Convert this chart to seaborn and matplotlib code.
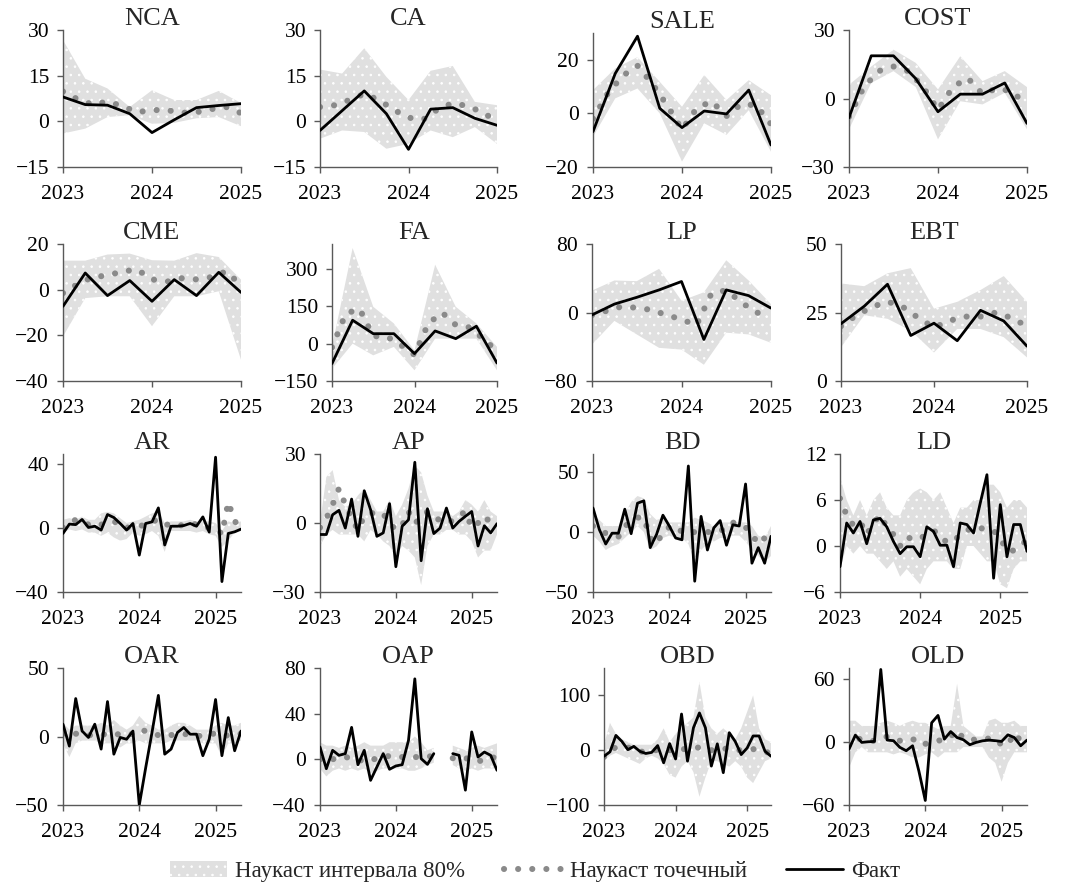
import numpy as np
import pandas as pd
import matplotlib
matplotlib.use('Agg')
import matplotlib.pyplot as plt
import seaborn as sns
from matplotlib.lines import Line2D
from matplotlib.patches import Patch

nan = np.nan

# quarterly panels: fact / 80% band per quarter (2023Q1..2025Q1), point nowcast every 2 months
NCA_fact = [8.0, 5.5, 5.3, 2.5, -3.7, 0.5, 4.5, 5.2, 5.8]
NCA_hi = [26.7, 14.0, 10.8, 4.7, 10.2, 7.0, 7.0, 10.0, 6.0]
NCA_lo = [-4.0, -2.4, 1.4, 2.0, -0.8, -0.5, 1.0, 1.4, -1.6]
NCA_now = [9.8, 7.2, 5.5, 6.5, 5.0, 3.0, 3.7, 3.7, 2.8, 3.0, 4.0, 4.7, 2.7]

CA_fact = [-3.0, 3.5, 10.0, 2.5, -9.2, 4.0, 4.5, 1.0, -1.3]
CA_hi = [17.0, 15.7, 24.0, 14.6, 7.0, 16.6, 18.2, 6.4, 5.3]
CA_lo = [-5.7, -3.0, -3.5, -9.0, -7.4, -3.0, -5.2, -1.9, -7.4]
CA_now = [4.7, 5.3, 7.0, 9.0, 7.0, 3.8, 1.2, 0.6, 4.0, 6.0, 5.0, 3.0, 0.0]

SALE_fact = [-6.8, 14.9, 28.8, 1.9, -5.3, 0.9, -0.2, 8.7, -11.8]
SALE_hi = [8.7, 16.8, 21.0, 11.8, 2.5, 14.3, 5.0, 12.4, 6.8]
SALE_lo = [-8.7, 5.6, 9.3, 0.0, -18.0, -3.7, -8.0, 1.2, -14.3]
SALE_now = [-2.0, 7.5, 14.0, 17.8, 11.0, 3.0, -6.0, 2.0, 4.5, -1.0, 3.5, 3.0, -4.0]

COST_fact = [-8.4, 18.7, 18.7, 8.7, -5.8, 1.9, 1.9, 6.8, -10.9]
COST_hi = [6.0, 14.0, 21.4, 15.6, 4.0, 18.5, 7.6, 12.0, 5.0]
COST_lo = [-13.5, 6.8, 12.0, 5.0, -17.9, -1.2, -2.6, 2.5, -13.5]
COST_now = [-8.0, 5.0, 12.0, 14.0, 12.0, 5.0, -5.0, 5.0, 9.0, 2.0, 4.5, 3.0, -3.0]

CME_fact = [-7.3, 7.3, -2.6, 4.0, -5.1, 4.4, -2.6, 7.6, -1.2]
CME_hi = [12.7, 12.7, 15.4, 15.8, 12.9, 12.7, 16.0, 14.3, 4.4]
CME_lo = [-20.5, -3.7, -2.9, -2.9, -16.0, -2.9, -2.9, -0.7, -30.7]
CME_now = [-1.5, 2.5, 5.5, 6.2, 8.0, 8.8, 4.5, 3.5, 5.0, 4.5, 5.5, 8.0, 2.0]

FA_fact = [-80, 94, 40, 40, -40, 51, 20, 70, -78]
FA_hi = [-13, 384, 148, 81, -27, 317, 148, 81, -13]
FA_lo = [-101, 0, -47, -13, -107, 20, 20, 20, -107]
FA_now = [-15, 120, 140, 30, 28, -5, -45, 80, 125, 75, 65, 20, -30]

LP_fact = [-2.8, 9.8, 17.7, 26.4, 36.2, -31.5, 26.4, 19.7, 5.1]
LP_hi = [25.6, 37.4, 36.6, 51.0, 13.8, 23.6, 61.0, 37.4, 9.8]
LP_lo = [-37.4, -9.8, -25.6, -41.3, -43.3, -61.0, -23.6, -25.6, -35.4]
LP_now = [-3, 2, 7, 5.5, 3, -3, -8, -15, 22, 26, 12, 0, -3]

EBT_fact = [20.9, 27.3, 35.3, 16.6, 21.1, 14.7, 25.8, 21.9, 12.7]
EBT_hi = [35.6, 34.6, 39.3, 41.2, 26.4, 28.9, 33.2, 38.3, 28.9]
EBT_lo = [12.3, 24.0, 22.7, 18.4, 10.4, 19.0, 19.0, 16.0, 8.6]
EBT_now = [20, 24, 27, 29, 27, 23, 19.5, 22, 23.5, 23.5, 25, 23, 20]

# monthly panels: Jan 2023 .. May 2025
AR_fact = [-3.5, 2.3, 2.0, 5.2, 0.2, 1.0, -1.4, 8.3, 6.4, 2.7, -1.4, 2.7, -17, 2.7, 3.7,
           12.4, -10.7, 1.0, 1.0, 1.4, 2.7, 1.0, 6.8, -2.7, 44, -33.5, -3.5, -2.5, -0.8]
AR_hi = [5, 6, 5, 7, 5, 5, 9, 10, 9, 6, 3, 4, 5, 7, 9, 10, 3, 4, 4, 4, 5, 4, 4, 4, 3, -2, 4, 3, 4]
AR_lo = [-3, -1, -2, -1, -3, -3, -5, -3, -6, -8, -7, -3, -5, -4, -2, -5, -15, -2, -2, -2,
         -2, -3, -2, -4, -5, -12, -8, -3, -2]
AR_now = [0, 3, 5, 4, 2, 1, 2, 3, 4, 2, 0, 1, 1, 2, 4, 5, 2, 2, 1, 2, 3, 2, 0, 0, 0, -4, 16, 4, 1]

AP_fact = [-5, -5, 3.6, 5.5, -2.2, 10.4, -5.8, 14, 5.8, -5.8, -4.3, 8.4, -19, -1.4, 1.4,
           26.4, -16.4, 6.2, -4.6, -2.2, 6.5, -2.2, 0.7, 2.9, 5, -10, -1.2, -4.3, -0.3]
AP_hi = [0, 20, 23, 10, 7, 8, 12, 15, 10, 5, 5, 10, 3, 8, 15, 25, 22, 12, 5, 5, 5, 3, 5, 10, 8, 5, 10, 5, 3]
AP_lo = [-10, -5, -3, -5, -5, -5, -5, -8, -3, -5, -8, -10, -15, -10, -12, -15, -27, -10, -5,
         -5, -3, -3, -5, -5, -8, -15, -12, -12, -5]
AP_now = [-2, 2, 8, 15, 8, 2, -3, 3, 4, 5, 4, 0, -3, -1, 5, 0, 2, 5, 3, 1, 0, 1, 3, 5, -2, 0, 3, 0, -1]

BD_fact = [20, 2, -10, -1, -1, 19, -1.4, 24, 26, -13, -2, 14, 5, -5, -6.5, 55, -41, 13, -15,
           3.4, 9.5, -11, 6, 5, 40, -26, -13, -26, -3.6]
BD_hi = [15, 10, 5, 5, 5, 15, 25, 30, 28, 15, 10, 12, 8, 8, 8, 8, 12, 10, 8, 5, 8, 8, 8, 8, 8, 5, -3, -5, 5]
BD_lo = [-3, -8, -15, -12, -10, -5, 0, 5, 0, -15, -12, -5, -3, -5, -5, -10, -25, -15, -10, -8,
         -5, -5, -3, -3, -8, -15, -20, -25, -20]
BD_now = [5, 2, -1, -3, -4, 5, 8, 12, 12, -5, -10, 0, 4, 5, 0, -1, 0, 0, 0, 0, 1, 3, 8, 5, 4, -2, -10, -5, -4]

LD_fact = [-2.7, 3, 1.7, 3.2, 0.3, 3.4, 3.6, 2.5, 0.6, -1, -0.1, -0.1, -1.4, 2.5, 1.9, 0.1, 0.1,
           -2.7, 3, 2.8, 1.7, 5.6, 9.3, -4.2, 5.4, -1.4, 2.8, 2.8, -0.7]
LD_hi = [9, 6, 4, 6, 4, 6, 7, 5, 4, 4, 6, 7, 7.5, 7, 6, 7, 5, 3, 5, 5, 6, 6, 8, 8, 7, 5, 6, 6, 5]
LD_lo = [-3, 0, -1, 0, -1, -1, -2, -3, -2, -4, -3, -4, -5, -3, -2, -2, -2, -3, -3, 0, 0, -1,
         -2, -2, -5, -5.5, -3, -2, -2]
LD_now = [6.2, 4, 2.7, 3.2, 1.5, 3, 4, 2.5, 1.5, 0, 1.2, 0.8, 1, 1.5, 2, 1.5, 0.4, 0.8, 1.3, 2,
          2.5, 2.3, 2.3, 2, 1, -0.6, -0.6, 0, 0.8]

OAR_fact = [9, -7, 27.7, 4, -0.7, 9, -9.2, 25.5, -12.9, -0.7, -2, 4, -50, -23, 3, 30, -12.9,
            -9.2, 2.9, 6.6, 1.7, 1.7, -14, -2, 27, -14, 13.8, -10.4, 4]
OAR_hi = [10, 5, 8, 8, 8, 8, 10, 8, 12, 8, 5, 8, 15, 10, 8, 5, 5, 8, 10, 10, 8, 5, 5, 5, 8, 10, 8, 8, 10]
OAR_lo = [-5, -15, -5, -3, -3, -3, -5, -5, -5, -8, -5, -5, -3, -5, -5, -5, -5, -3, -3, -3, -3,
          -3, -5, -5, -5, -15, -5, -5, -3]
OAR_now = [2, 0, 2, 2, 1, 1, 2, 1, 1, 2, 1, 2, 5, 4, 2, 1, 0, 1, 2, 2, 1, 0, 1, 2, 2, 0, 1, 2, 2]

OAP_fact = [10.8, -8.2, 7.9, 3.5, 5, 28, -4.7, 7.9, -18.4, -6.7, 5, -8.7, -5.8, -4.7, 16.6,
            70.5, 0.6, -4.4, 5, nan, nan, 5, 3.5, -27, 24, 2, 6.4, 3.5, -9.6]
OAP_hi = [15, 12, 12, 10, 12, 10, 12, 15, 12, 12, 12, 15, 15, 15, 15, 20, 15, 8, 10, nan, nan,
          12, 10, 8, 10, 12, 10, 12, 14]
OAP_lo = [-8, -15, -10, -8, -10, -8, -10, -8, -12, -10, -8, -8, -8, -8, -10, -10, -8, -5, -3,
          nan, nan, -5, -8, -10, -8, -10, -8, -8, -8]
OAP_now = [0, -2, 0, 2, 2, 1, 0, -2, -1, 1, 2, 3, 3, 2, 3, 2, 2, 3, 2, nan, nan, 1, 0, 1, 0, -2, 0, 2, 1]

OBD_fact = [-11, -3, 27, 16, 1, 7, -2, -6, -4, 8.5, -23, 12, -16, 66, -20, 41, 68, 41, -29,
            11.6, -41, 32, 16, -8, 4, 26, 26, -2, -11]
OBD_hi = [10, 50, 30, 20, 15, 10, 10, 10, 10, 20, 40, 15, 30, 40, 50, 60, 125, 60, 40, 30, 40,
          30, 20, 40, 70, 100, 40, 20, 15]
OBD_lo = [-20, -10, -5, -10, -15, -20, -25, -15, -10, -15, -25, -45, -50, -30, -20, -40, -85,
          -50, -20, -20, -25, -30, -20, -30, -50, -60, -40, -20, -15]
OBD_now = [-12, 0, 5, 3, 5, 2, -3, -2, 0, 0, 0, 0, 0, 2, 2, 4, 5, 5, 0, 2, 3, 2, 0, 0, 0, 2, 0, -3, -5]

OLD_fact = [-7, 6.3, -0.6, 0, 0.3, 68.6, 1.6, 1, -5.3, -8.5, -3.8, -28, -55.7, 18, 25, 2.5,
            9.7, 4, 1.9, -2.8, -0.6, 0.9, 1.6, 1, 0.3, 6.6, 4, -3.8, 1.6]
OLD_hi = [20, 20, 15, 15, 15, 18, 20, 18, 15, 18, 20, 18, 18, 15, 12, 15, 15, 55, 15, 10, 5, 5,
          20, 22, 18, 18, 20, 15, 15]
OLD_lo = [-25, -10, -5, -10, -10, -10, -10, -12, -10, -12, -15, -15, -12, -10, -15, -10, -10,
          -10, -5, -5, -5, -5, -15, -20, -38, -20, -10, -10, -10]
OLD_now = [-3, 4, 2, 0, 1, 3, 5, 2, 1, 3, 2, 3, -2, 0, 1, 2, 5, 11, 3, 2, 2, 3, 3, 3, -3, -3, 8, 1, 0]

# name, frequency, data, y limits, y ticks
panels = [
    ('NCA', 'q', (NCA_fact, NCA_lo, NCA_hi, NCA_now), (-15, 30), [-15, 0, 15, 30]),
    ('CA', 'q', (CA_fact, CA_lo, CA_hi, CA_now), (-15, 30), [-15, 0, 15, 30]),
    ('SALE', 'q', (SALE_fact, SALE_lo, SALE_hi, SALE_now), (-20, 30), [-20, 0, 20]),
    ('COST', 'q', (COST_fact, COST_lo, COST_hi, COST_now), (-30, 30), [-30, 0, 30]),
    ('CME', 'q', (CME_fact, CME_lo, CME_hi, CME_now), (-40, 20), [-40, -20, 0, 20]),
    ('FA', 'q', (FA_fact, FA_lo, FA_hi, FA_now), (-150, 400), [-150, 0, 150, 300]),
    ('LP', 'q', (LP_fact, LP_lo, LP_hi, LP_now), (-80, 80), [-80, 0, 80]),
    ('EBT', 'q', (EBT_fact, EBT_lo, EBT_hi, EBT_now), (0, 50), [0, 25, 50]),
    ('AR', 'm', (AR_fact, AR_lo, AR_hi, AR_now), (-40, 46), [-40, 0, 40]),
    ('AP', 'm', (AP_fact, AP_lo, AP_hi, AP_now), (-30, 30), [-30, 0, 30]),
    ('BD', 'm', (BD_fact, BD_lo, BD_hi, BD_now), (-50, 65), [-50, 0, 50]),
    ('LD', 'm', (LD_fact, LD_lo, LD_hi, LD_now), (-6, 12), [-6, 0, 6, 12]),
    ('OAR', 'm', (OAR_fact, OAR_lo, OAR_hi, OAR_now), (-50, 50), [-50, 0, 50]),
    ('OAP', 'm', (OAP_fact, OAP_lo, OAP_hi, OAP_now), (-40, 80), [-40, 0, 40, 80]),
    ('OBD', 'm', (OBD_fact, OBD_lo, OBD_hi, OBD_now), (-100, 150), [-100, 0, 100]),
    ('OLD', 'm', (OLD_fact, OLD_lo, OLD_hi, OLD_now), (-60, 70), [-60, 0, 60]),
]

legend_labels = ['Наукаст интервала 80%', 'Наукаст точечный', 'Факт']

# plot-area boxes in pixels (left, right), per row (top, bottom)
W, H = 1070, 885
col_px = [
    [(63, 241), (320, 497), (593, 771), (849, 1027)],
    [(63, 241), (332, 497), (592, 771), (841, 1027)],
    [(63, 241), (320, 497), (593, 771), (840, 1027)],
    [(63, 241), (320, 497), (604, 771), (849, 1027)],
]
row_px = [(30, 167), (244, 381), (454, 592), (668, 805)]

BAND = '#e0e0e0'
DOTS = '#8a8a8a'
SPINE = '#595959'

sns.set_theme(style='ticks')
plt.rcParams['font.family'] = ['Liberation Serif', 'DejaVu Serif']
plt.rcParams['axes.unicode_minus'] = True
plt.rcParams['hatch.color'] = 'white'
plt.rcParams['hatch.linewidth'] = 0.6

dot_style = dict(linestyle=(0, (0.01, 2.3)), dash_capstyle='round', linewidth=4.4, color=DOTS)

fig = plt.figure(figsize=(W / 100, H / 100), dpi=100)

for k, (name, freq, (fact, lo, hi, now), ylim, yticks) in enumerate(panels):
    r, c = divmod(k, 4)
    (x0, x1), (y0, y1) = col_px[r][c], row_px[r]
    row_top = y0
    if name == 'SALE':
        y0 = 33
    ax = fig.add_axes([x0 / W, 1 - y1 / H, (x1 - x0) / W, (y1 - y0) / H])

    if freq == 'q':
        x_main = 2023 + np.arange(len(fact)) / 4
        x_now = 2023 + np.arange(len(now)) / 6
        xmax = 2025
    else:
        x_main = 2023 + np.arange(len(fact)) / 12
        x_now = x_main
        xmax = 2023 + 28 / 12

    ax.fill_between(x_main, lo, hi, facecolor=BAND, edgecolor='white', hatch='..',
                    linewidth=0, zorder=1)

    d_now = pd.DataFrame({'x': x_now, 'y': now})
    d_now['seg'] = d_now['y'].isna().cumsum()
    sns.lineplot(data=d_now.dropna(), x='x', y='y', units='seg', estimator=None,
                 ax=ax, zorder=2, **dot_style)

    d_fact = pd.DataFrame({'x': x_main, 'y': fact})
    d_fact['seg'] = d_fact['y'].isna().cumsum()
    sns.lineplot(data=d_fact.dropna(), x='x', y='y', units='seg', estimator=None,
                 ax=ax, color='black', linewidth=2.0, zorder=3)

    ax.set_xlim(2023, xmax)
    ax.set_ylim(*ylim)
    ax.set_xticks([2023, 2024, 2025])
    ax.set_xticklabels(['2023', '2024', '2025'])
    ax.set_yticks(yticks)
    ax.set_xlabel('')
    ax.set_ylabel('')
    ax.set_title(name, fontsize=19, pad=1 + (y0 - row_top) * 0.72)
    for s in ['top', 'right']:
        ax.spines[s].set_visible(False)
    for s in ['left', 'bottom']:
        ax.spines[s].set_color(SPINE)
        ax.spines[s].set_linewidth(1.0)
    ax.tick_params(axis='both', direction='out', length=4, width=1.0, color=SPINE,
                   labelsize=15.5, labelcolor='black')
    ax.tick_params(axis='x', pad=9)
    ax.tick_params(axis='y', pad=6)

handles = [
    Patch(facecolor=BAND, edgecolor='white', hatch='..', linewidth=0),
    Line2D([0], [0], **dot_style),
    Line2D([0], [0], color='black', linewidth=2.0),
]
fig.legend(handles, legend_labels, loc='center', bbox_to_anchor=(0.5, 0.015), ncol=3,
           frameon=False, fontsize=16.5, handlelength=2.5, handletextpad=0.35,
           columnspacing=1.7)

fig.savefig('out.png', dpi=100)
